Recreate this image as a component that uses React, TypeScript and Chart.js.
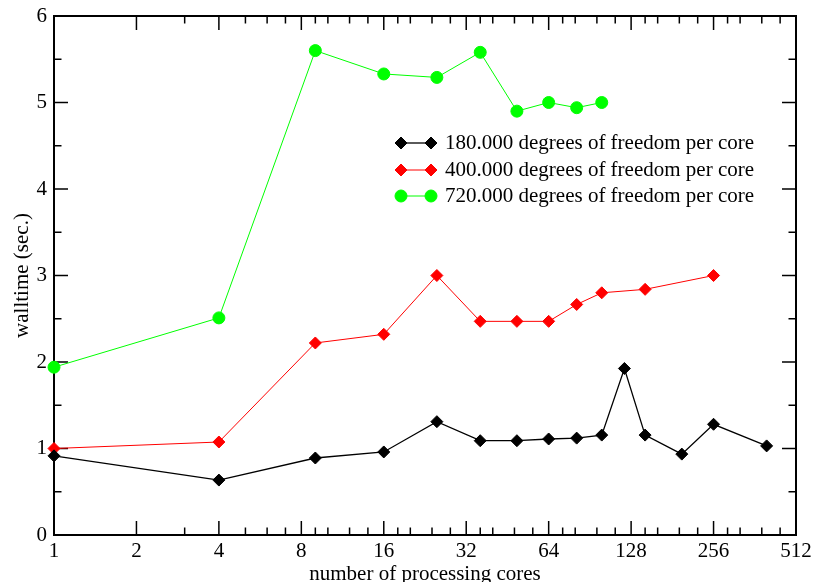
import React, { useEffect, useRef } from 'react';
import { Chart, registerables } from 'chart.js';

Chart.register(...registerables);

// ---- data ----
const cores180 = [1, 4, 9, 16, 25, 36, 49, 64, 81, 100, 121, 144, 196, 256, 400];
const walltime180 = [0.915, 0.635, 0.89, 0.96, 1.31, 1.09, 1.09, 1.11, 1.12, 1.155, 1.925, 1.155, 0.935, 1.28, 1.03];
const cores400 = [1, 4, 9, 16, 25, 36, 49, 64, 81, 100, 144, 256];
const walltime400 = [1.0, 1.075, 2.22, 2.32, 3.0, 2.47, 2.47, 2.47, 2.665, 2.8, 2.84, 3.0];
const cores720 = [1, 4, 9, 16, 25, 36, 49, 64, 81, 100];
const walltime720 = [1.94, 2.51, 5.6, 5.33, 5.29, 5.58, 4.9, 5.0, 4.94, 5.0];
const seriesLabels = [
  '180.000 degrees of freedom per core',
  '400.000 degrees of freedom per core',
  '720.000 degrees of freedom per core',
];
const xMajorTicks = [1, 2, 4, 8, 16, 32, 64, 128, 256, 512];
const xMinorTicks = [3, 5, 6, 7, 9, 10, 12, 14, 18, 20, 24, 28, 36, 40, 48, 56, 72, 80, 96, 112, 144, 160, 192, 224, 288, 320, 384, 448];
const yMajorTicks = [0, 1, 2, 3, 4, 5, 6];
const yMinorTicks = [0.5, 1.5, 2.5, 3.5, 4.5, 5.5];

const FONT = "'Liberation Serif', 'Times New Roman', serif";

const toPoints = (xs: number[], ys: number[]) => xs.map((x, i) => ({ x, y: ys[i] }));

function drawMarker(ctx: CanvasRenderingContext2D, style: string, x: number, y: number, r: number, color: string) {
  ctx.beginPath();
  if (style === 'circle') {
    ctx.arc(x, y, r, 0, Math.PI * 2);
  } else {
    ctx.moveTo(x - r, y);
    ctx.lineTo(x, y - r);
    ctx.lineTo(x + r, y);
    ctx.lineTo(x, y + r);
    ctx.closePath();
  }
  ctx.fillStyle = color;
  ctx.fill();
  ctx.strokeStyle = color;
  ctx.lineWidth = 1;
  ctx.stroke();
}

const frameTicksPlugin = {
  id: 'frameTicks',
  beforeDatasetsDraw(chart: any) {
    const { ctx, chartArea: a, scales } = chart;
    const xs = scales.x;
    const ys = scales.y;
    ctx.save();
    ctx.strokeStyle = '#000';
    ctx.lineWidth = 1.5;
    const seg = (x1: number, y1: number, x2: number, y2: number) => {
      ctx.beginPath();
      ctx.moveTo(x1, y1);
      ctx.lineTo(x2, y2);
      ctx.stroke();
    };
    const xTicks = (vals: number[], len: number) =>
      vals.forEach((v) => {
        const px = xs.getPixelForValue(v);
        seg(px, a.bottom, px, a.bottom - len);
        seg(px, a.top, px, a.top + len);
      });
    const yTicks = (vals: number[], len: number) =>
      vals.forEach((v) => {
        const py = ys.getPixelForValue(v);
        seg(a.left, py, a.left + len, py);
        seg(a.right, py, a.right - len, py);
      });
    xTicks(xMajorTicks, 14);
    xTicks(xMinorTicks, 7.5);
    yTicks(yMajorTicks, 14);
    yTicks(yMinorTicks, 7.5);
    ctx.lineWidth = 2;
    ctx.strokeRect(a.left, a.top, a.right - a.left, a.bottom - a.top);
    ctx.restore();
  },
};

const legendPlugin = {
  id: 'innerLegend',
  afterDatasetsDraw(chart: any) {
    const { ctx } = chart;
    const rows = [143, 170, 196];
    const x1 = 401;
    const x2 = 431;
    const tx = 445;
    ctx.save();
    chart.data.datasets.forEach((ds: any, i: number) => {
      const y = rows[i];
      ctx.strokeStyle = ds.borderColor;
      ctx.lineWidth = ds.borderWidth;
      ctx.beginPath();
      ctx.moveTo(x1, y);
      ctx.lineTo(x2, y);
      ctx.stroke();
      drawMarker(ctx, ds.pointStyle, x1, y, ds.pointRadius, ds.pointBackgroundColor);
      drawMarker(ctx, ds.pointStyle, x2, y, ds.pointRadius, ds.pointBackgroundColor);
      ctx.fillStyle = '#000';
      ctx.font = `21px ${FONT}`;
      ctx.textAlign = 'left';
      ctx.textBaseline = 'middle';
      ctx.fillText(ds.label, tx, y);
    });
    ctx.restore();
  },
};

export default function App() {
  const ref = useRef<HTMLCanvasElement | null>(null);

  useEffect(() => {
    if (!ref.current) return;
    Chart.defaults.color = '#000';
    Chart.defaults.font.family = FONT;
    const mk = (label: string, data: any[], color: string, style: string, r: number, bw: number) => ({
      label,
      data,
      borderColor: color,
      backgroundColor: color,
      pointBackgroundColor: color,
      pointBorderColor: color,
      pointBorderWidth: 1,
      pointStyle: style,
      pointRadius: r,
      pointHoverRadius: r,
      borderWidth: bw,
      tension: 0,
      fill: false,
      clip: false as any,
    });
    const chart = new Chart(ref.current, {
      type: 'line',
      data: {
        datasets: [
          mk(seriesLabels[0], toPoints(cores180, walltime180), '#000000', 'rectRot', 6, 1.3),
          mk(seriesLabels[1], toPoints(cores400, walltime400), '#ff0000', 'rectRot', 6, 1),
          mk(seriesLabels[2], toPoints(cores720, walltime720), '#00ff00', 'circle', 6, 1),
        ] as any,
      },
      options: {
        animation: false,
        responsive: false,
        events: [],
        layout: { padding: { top: 16, right: 18, bottom: 0, left: 0 } },
        plugins: {
          legend: { display: false },
          tooltip: { enabled: false },
          title: { display: false },
        },
        scales: {
          x: {
            type: 'logarithmic',
            min: 1,
            max: 512,
            afterBuildTicks: (s: any) => {
              s.ticks = xMajorTicks.map((v) => ({ value: v }));
            },
            afterFit: (s: any) => {
              s.height = 47;
              s.paddingLeft = 0;
              s.paddingRight = 0;
            },
            ticks: {
              autoSkip: false,
              maxRotation: 0,
              minRotation: 0,
              padding: 4,
              color: '#000',
              font: { family: FONT, size: 21 },
              callback: (v: any) => String(v),
            },
            grid: { display: false, drawTicks: false },
            border: { display: false },
            title: {
              display: true,
              text: 'number of processing cores',
              color: '#000',
              font: { family: FONT, size: 21, lineHeight: 1 },
              padding: { top: 0, bottom: -2.5 },
            },
          },
          y: {
            type: 'linear',
            min: 0,
            max: 6,
            afterFit: (s: any) => {
              s.width = 54;
              s.paddingTop = 0;
              s.paddingBottom = 0;
            },
            ticks: {
              stepSize: 1,
              padding: 7,
              color: '#000',
              font: { family: FONT, size: 21 },
            },
            grid: { display: false, drawTicks: false },
            border: { display: false },
            title: {
              display: true,
              text: 'walltime (sec.)',
              color: '#000',
              font: { family: FONT, size: 21, lineHeight: 1 },
              padding: { top: 11.5, bottom: 0 },
            },
          },
        },
      } as any,
      plugins: [frameTicksPlugin, legendPlugin],
    });
    return () => chart.destroy();
  }, []);

  return (
    <div style={{ position: 'absolute', left: 0, top: 0, width: 814, height: 582, background: '#fff' }}>
      <canvas ref={ref} width={814} height={582} style={{ display: 'block' }} />
    </div>
  );
}
